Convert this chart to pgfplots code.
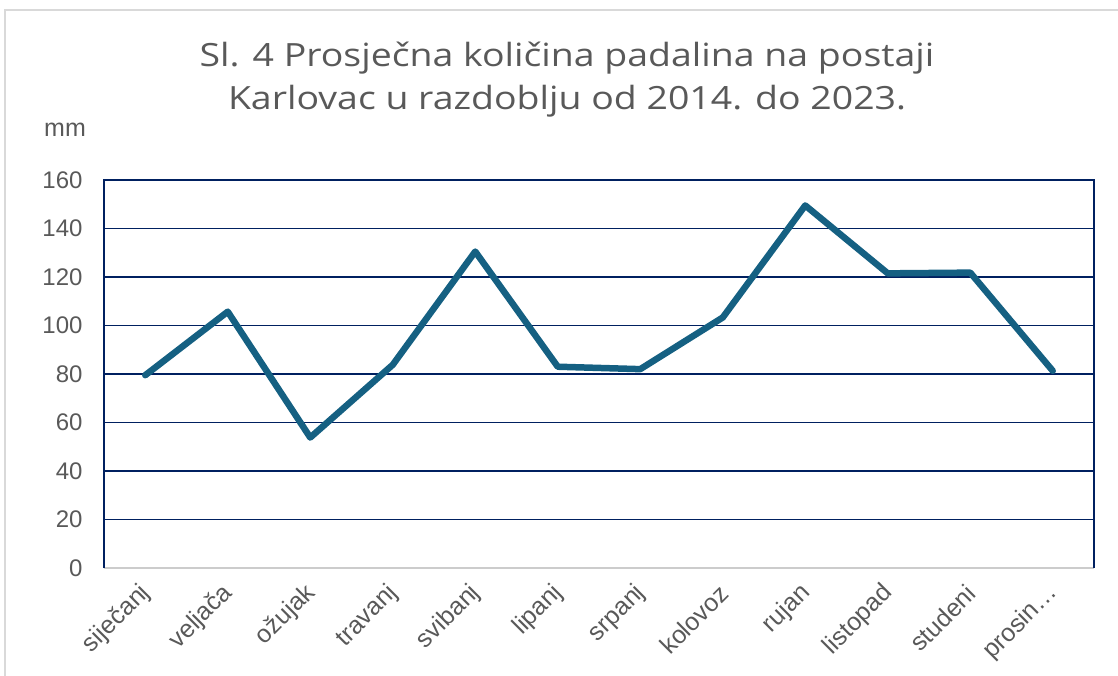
\documentclass[border=0pt]{standalone}
\usepackage{pgfplots}
\pgfplotsset{compat=1.18}
\usepackage{fontspec}
\setmainfont{Liberation Sans}
\newfontfamily\titlefont{Open Sans}
\definecolor{linec}{HTML}{156082}
\definecolor{navy}{HTML}{002060}
\definecolor{txt}{HTML}{595959}
\begin{document}
\begin{tikzpicture}
\path[use as bounding box] (0,0) rectangle (1118bp,676bp);
\draw[black!15, line width=2bp] (5bp,0) -- (5bp,666bp) -- (1118bp,666bp);
\node[txt, anchor=base, inner sep=0, font=\titlefont\fontsize{32bp}{36bp}\selectfont] at (567bp,609bp) {\scalebox{1.17}[1]{Sl. 4 Prosječna količina padalina na postaji}};
\node[txt, anchor=base, inner sep=0, font=\titlefont\fontsize{32bp}{36bp}\selectfont] at (567bp,566bp) {\scalebox{1.17}[1]{Karlovac u razdoblju od 2014. do 2023.}};
\node[txt, anchor=base, inner sep=0, font=\fontsize{25bp}{28bp}\selectfont] at (65bp,539bp) {mm};
\begin{axis}[
  at={(104bp,108bp)}, anchor=south west, scale only axis,
  width=990bp, height=388bp,
  xmin=-0.5, xmax=11.5, ymin=0, ymax=160,
  ytick={0,20,...,160}, xtick={0,...,11},
  xticklabels={siječanj,veljača,ožujak,travanj,svibanj,lipanj,srpanj,kolovoz,rujan,listopad,studeni,prosin…},
  ymajorgrids, grid style={navy, line width=1.8bp},
  axis line style={draw=none},
  major tick length=0,
  tick label style={txt, font=\fontsize{24bp}{28bp}\selectfont},
  /pgf/number format/assume math mode=true,
  yticklabel style={anchor=east, xshift=-18bp},
  xticklabel style={rotate=45, anchor=east, yshift=-16bp, xshift=-11bp, font=\fontsize{25bp}{28bp}\selectfont},
  clip=false,
]
\addplot[linec, line width=6.5bp, line join=round, line cap=round] coordinates {
(0,79.5) (1,105.7) (2,53.8) (3,83.8) (4,130.5) (5,83) (6,82) (7,103.3) (8,149.5) (9,121.5) (10,121.8) (11,81.3)
};
\draw[black!20, line width=2bp] (rel axis cs:0,0) -- (rel axis cs:1,0);
\draw[navy, line width=2bp] (rel axis cs:0,0) -- (rel axis cs:0,1) -- (rel axis cs:1,1) -- (rel axis cs:1,0);
\end{axis}
\end{tikzpicture}
\end{document}
